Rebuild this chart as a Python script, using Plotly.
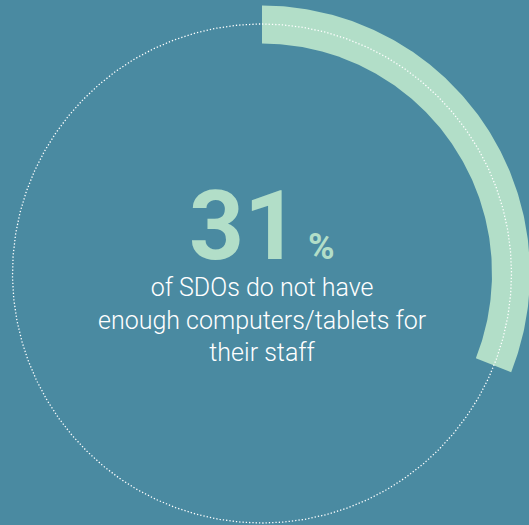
import numpy as np
import plotly.graph_objects as go

# Headline statistic
share_pct = 31
headline = "31"
caption_lines = ["of SDOs do not have", "enough computers/tablets for", "their staff"]

BG = "#4a8aa1"
MINT = "#b2dec8"

W, H = 529, 525
CX, CY = 262, 273.5          # ring centre (axis units = pixels)
R_DOT = 249.5                # dotted guide circle
R_IN, R_OUT = 230, 268       # progress band

fig = go.Figure()

# progress band: 0 -> share_pct of a full turn, clockwise from 12 o'clock
theta = np.linspace(0, share_pct / 100 * 2 * np.pi, 200)
xs = np.concatenate([CX + R_OUT * np.sin(theta), CX + R_IN * np.sin(theta[::-1])])
ys = np.concatenate([CY - R_OUT * np.cos(theta), CY - R_IN * np.cos(theta[::-1])])
fig.add_trace(go.Scatter(x=np.append(xs, xs[0]), y=np.append(ys, ys[0]), mode="lines",
                         fill="toself", fillcolor=MINT, line=dict(width=0),
                         hoverinfo="skip", showlegend=False))

# dotted full circle
t = np.linspace(0, 2 * np.pi, 720)
fig.add_trace(go.Scatter(x=CX + R_DOT * np.sin(t), y=CY - R_DOT * np.cos(t), mode="lines",
                         line=dict(color="white", width=1.3, dash="1.3px,2px"),
                         hoverinfo="skip", showlegend=False))

# big number with small percent sign
fig.add_annotation(x=CX, y=284, xref="x", yref="y", xanchor="center", yanchor="bottom",
                   text=f"<b>{headline}</b><span style='font-size:36px'><b> %</b></span>",
                   showarrow=False, font=dict(family="Roboto", size=96, color=MINT))

fig.add_annotation(x=CX, y=320, xref="x", yref="y", xanchor="center", yanchor="middle",
                   text="<br>".join(caption_lines), showarrow=False, align="center",
                   font=dict(family="Roboto", size=25, color="white", weight=300))

fig.update_xaxes(range=[0, W], visible=False, fixedrange=True)
fig.update_yaxes(range=[H, 0], visible=False, fixedrange=True)
fig.update_layout(width=W, height=H, margin=dict(l=0, r=0, t=0, b=0),
                  paper_bgcolor=BG, plot_bgcolor=BG)

fig.write_html("out.html")
